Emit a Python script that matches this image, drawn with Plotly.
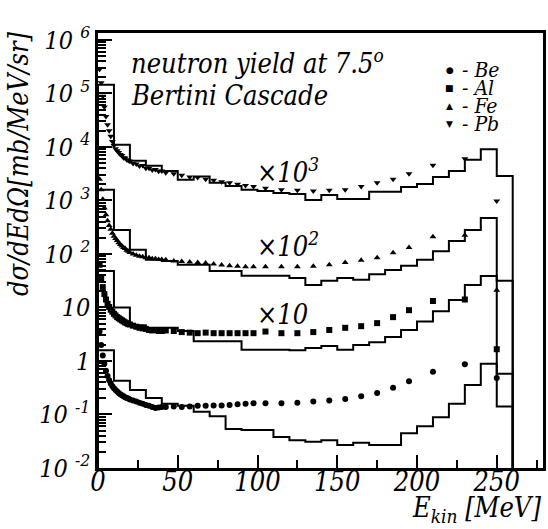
import plotly.graph_objects as go

# ---- data ----
E = [1, 2, 3, 4, 5, 6, 7, 8, 9, 10, 11, 12, 13, 14, 15, 16, 17, 18, 19, 20,
     22, 24, 26, 28, 30, 32, 34, 36, 38, 40,
     42.5, 47.5, 52.5, 57.5, 62.5, 67.5, 72.5, 77.5, 82.5, 87.5, 92.5, 97.5,
     105, 115, 125, 135, 145, 155, 165, 175, 185, 195, 210, 230, 250]

be = [3.55, 2.0, 1.26, 0.89, 0.66, 0.525, 0.437, 0.38, 0.339, 0.309, 0.288, 0.269, 0.251, 0.24, 0.229,
      0.219, 0.209, 0.204, 0.2, 0.19, 0.182, 0.174, 0.166, 0.158, 0.151, 0.145, 0.138, 0.132, 0.135, 0.138,
      0.138, 0.141, 0.138, 0.141, 0.145, 0.145, 0.148, 0.148, 0.151, 0.155, 0.158, 0.162,
      0.162, 0.162, 0.166, 0.174, 0.182, 0.195, 0.219, 0.251, 0.316, 0.417, 0.631, 0.871, 0.479]
al = [6.3, 3.55, 2.4, 1.78, 1.41, 1.17, 1.02, 0.91, 0.83, 0.76, 0.71, 0.66, 0.63, 0.6, 0.575,
      0.55, 0.525, 0.51, 0.49, 0.48, 0.457, 0.437, 0.417, 0.407, 0.398, 0.38, 0.372, 0.38, 0.363, 0.363,
      0.372, 0.363, 0.347, 0.339, 0.331, 0.339, 0.331, 0.331, 0.331, 0.331, 0.331, 0.331,
      0.355, 0.331, 0.331, 0.347, 0.38, 0.417, 0.447, 0.51, 0.66, 0.89, 1.32, 1.41, 0.166]
fe = [25.0, 15.8, 10.5, 7.2, 5.4, 4.2, 3.4, 2.9, 2.45, 2.14, 1.95, 1.78, 1.62, 1.51, 1.41,
      1.32, 1.26, 1.17, 1.12, 1.07, 1.0, 0.95, 0.91, 0.89, 0.85, 0.85, 0.81, 0.81, 0.79, 0.79,
      0.78, 0.74, 0.72, 0.71, 0.69, 0.68, 0.65, 0.62, 0.6, 0.59, 0.575, 0.575,
      0.575, 0.575, 0.575, 0.59, 0.63, 0.69, 0.76, 0.85, 1.05, 1.32, 2.09, 2.24, 0.21]
pb = [282, 158, 89, 56, 37, 26, 20, 15.8, 12.6, 10.7, 9.3, 8.5, 7.9, 7.2, 6.9,
      6.3, 6.2, 5.75, 5.6, 5.4, 4.9, 4.8, 4.4, 4.5, 4.0, 4.0, 3.7, 3.8, 3.5, 3.55,
      3.3, 3.15, 2.95, 2.75, 2.7, 2.5, 2.4, 2.24, 2.14, 2.0, 1.9, 1.82,
      1.7, 1.58, 1.55, 1.51, 1.55, 1.58, 1.82, 2.14, 2.5, 3.16, 4.57, 6.0, 0.98]

# histogram (Bertini cascade), bins of 10 MeV from 0 to 260
edges = [0, 10, 20, 30, 40, 50, 60, 70, 80, 90, 100, 110, 120, 130, 140, 150, 160,
         170, 180, 190, 200, 210, 220, 230, 240, 250, 260]
be_h = [1.58, 0.427, 0.288, 0.204, 0.158, 0.145, 0.112, 0.093, 0.0537, 0.0513, 0.0513, 0.038, 0.0331,
        0.0309, 0.0331, 0.0269, 0.0295, 0.0269, 0.0269, 0.0447, 0.0603, 0.0891, 0.158, 0.355, 0.891, 0.141]
al_h = [4.8, 1.0, 0.468, 0.417, 0.417, 0.363, 0.234, 0.234, 0.234, 0.162, 0.162, 0.162, 0.158,
        0.174, 0.19, 0.162, 0.2, 0.224, 0.282, 0.38, 0.55, 0.85, 1.38, 2.63, 3.89, 0.0575]
fe_h = [15.8, 2.82, 1.2, 0.78, 0.74, 0.63, 0.63, 0.48, 0.48, 0.39, 0.39, 0.39, 0.355,
        0.263, 0.316, 0.355, 0.331, 0.417, 0.5, 0.6, 0.78, 1.12, 1.74, 2.82, 4.68, 0.316]
pb_h = [145, 11.0, 5.5, 4.47, 3.55, 2.45, 2.82, 2.14, 1.86, 1.58, 1.51, 1.38, 1.32,
        1.02, 1.26, 1.07, 1.07, 1.45, 1.45, 1.78, 2.04, 2.75, 3.55, 5.75, 9.1, 2.88]

names = ["Be", "Al", "Fe", "Pb"]
scales = [1, 10, 100, 1000]
points = [be, al, fe, pb]
hists = [be_h, al_h, fe_h, pb_h]
symbols = ["circle", "square", "triangle-up", "triangle-down"]
legend_glyphs = ["\u25CF", "\u25A0", "\u25B2", "\u25BC"]
scale_labels = ["", "\u00d710", "\u00d710<sup>2</sup>", "\u00d710<sup>3</sup>"]

x_ticks = [0, 50, 100, 150, 200, 250]
y_ticks = [1e-2, 1e-1, 1, 10, 1e2, 1e3, 1e4, 1e5, 1e6]
y_ticktext = ["10 <sup>-2</sup>", "10 <sup>-1</sup>", "1", "10", "10 <sup>2</sup>",
              "10 <sup>3</sup>", "10 <sup>4</sup>", "10 <sup>5</sup>", "10 <sup>6</sup>"]

TINY = 1e-5
SERIF = "DejaVu Serif Condensed, DejaVu Serif"

# plot frame in pixels (for placing free texts)
L, R, T, B = 98, 546, 33, 468
def px(x):
    return (x - L) / (R - L)
def py(y):
    return (B - y) / (B - T)

def f(size):
    return dict(family=SERIF, size=size, style="italic", color="black")

fig = go.Figure()
for name, s, pts, h, sym in zip(names, scales, points, hists, symbols):
    hx = [edges[0]] + edges[:-1] + [edges[-1], edges[-1]]
    hy = [TINY] + [v * s for v in h] + [h[-1] * s, TINY]
    fig.add_trace(go.Scatter(x=hx, y=hy, mode="lines", line_shape="hv",
                             line=dict(color="black", width=2), showlegend=False,
                             hoverinfo="skip"))
    fig.add_trace(go.Scatter(x=E, y=[v * s for v in pts], mode="markers", name=name,
                             marker=dict(symbol=sym, color="black", size=6,
                                         line=dict(width=0)),
                             showlegend=False))

minor_y = [k * 10 ** n for n in range(-3, 7) for k in range(2, 10)]

fig.update_xaxes(range=[0, 279], showline=True, linewidth=2.5, linecolor="black", mirror=True,
                 ticks="inside", ticklen=13, tickwidth=2, tickcolor="black",
                 tickvals=x_ticks, ticklabelstandoff=-12,
                 minor=dict(tickvals=[25, 75, 125, 175, 225, 275], ticks="inside",
                            ticklen=8, tickwidth=2, tickcolor="black"),
                 tickfont=f(27), showgrid=False, zeroline=False)
fig.update_yaxes(type="log", range=[-2.0, 6.13], showline=True, linewidth=2.5, linecolor="black",
                 mirror=True, ticks="inside", ticklen=14, tickwidth=2, tickcolor="black",
                 tickvals=y_ticks, ticktext=y_ticktext,
                 minor=dict(tickvals=minor_y, ticks="inside", ticklen=8, tickwidth=1.5,
                            tickcolor="black"),
                 tickfont=f(25), showgrid=False, zeroline=False)

ann = []
ann.append(dict(x=px(129), y=py(62), xref="paper", yref="paper", xanchor="left", yanchor="middle",
                text="neutron yield at 7.5<sup>o</sup>", showarrow=False, font=f(27)))
ann.append(dict(x=px(129), y=py(96), xref="paper", yref="paper", xanchor="left", yanchor="middle",
                text="Bertini Cascade", showarrow=False, font=f(27)))
label_y = {1: 314, 2: 244, 3: 170}
for i, lab in enumerate(scale_labels):
    if lab:
        ann.append(dict(x=px(256), y=py(label_y[i]), xref="paper", yref="paper", xanchor="left",
                        yanchor="middle", text=lab, showarrow=False, font=f(27)))
leg_y = [70, 88, 106, 124]
for g, name, yy in zip(legend_glyphs, names, leg_y):
    ann.append(dict(x=px(452), y=py(yy), xref="paper", yref="paper", xanchor="center",
                    yanchor="middle", text=g, showarrow=False,
                    font=dict(family="DejaVu Sans", size=9, color="black")))
    ann.append(dict(x=px(462), y=py(yy), xref="paper", yref="paper", xanchor="left",
                    yanchor="middle", text="- " + name, showarrow=False, font=f(21)))
ann.append(dict(x=px(18), y=py(29), xref="paper", yref="paper", xanchor="center", yanchor="top",
                textangle=-90, text="d\u03c3/dEd\u03a9[mb/MeV/sr]", showarrow=False, font=f(27)))
ann.append(dict(x=px(546), y=py(529), xref="paper", yref="paper", xanchor="right", yanchor="bottom",
                text="E<sub>kin</sub> [MeV]", showarrow=False, font=f(27)))

fig.update_layout(width=548, height=529, margin=dict(l=L, r=548 - R, t=T, b=529 - B),
                  plot_bgcolor="white", paper_bgcolor="white", annotations=ann)
fig.write_html("out.html")
